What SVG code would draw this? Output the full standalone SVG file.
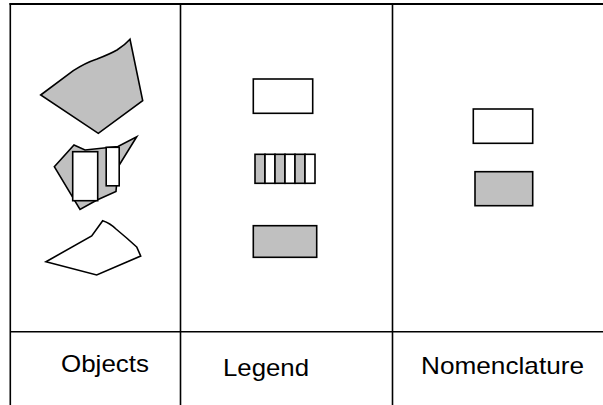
<svg xmlns="http://www.w3.org/2000/svg" width="603" height="405" viewBox="0 0 603 405">
<style>
.ln{stroke:#000;stroke-width:1.6;fill:none}
.sh{stroke:#000;stroke-width:1.6;stroke-linejoin:miter}
.g{fill:#c0c0c0}
.w{fill:#fff}
.lbl{font-family:"Liberation Sans",Arial,sans-serif;font-size:24px;fill:#000}
</style>
<rect width="603" height="405" fill="#fff"/>
<g id="frame">
<line class="ln" x1="9.5" y1="4" x2="603" y2="4" style="stroke-width:2.2"/>
<line class="ln" x1="10.3" y1="3" x2="10.3" y2="405"/>
<line class="ln" x1="180.5" y1="4" x2="180.5" y2="405"/>
<line class="ln" x1="392.5" y1="4" x2="392.5" y2="405"/>
<line class="ln" x1="10" y1="331.7" x2="603" y2="331.7"/>
</g>
<g id="objects">
<path class="sh g" d="M40.7,95 L73.3,70.7 Q85,63 97,59 Q110,54 117,50 Q125,45 130,39.3 L142.7,100.7 L98.3,133.3 Z"/>
<path class="sh g" d="M54.3,166.7 L74,145 L85,150 L118,146.5 L136.7,136.7 L118,167 L116,191.5 L97,200 L80,209.5 Z"/>
<rect class="sh w" x="72.7" y="151.7" width="25" height="49"/>
<rect class="sh w" x="106.2" y="147.3" width="13" height="38.5"/>
<path class="sh w" d="M46,261.7 L91.7,236 L102.7,220.7 Q110,223 116,229 Q127,238 136.7,247 L140.7,256 L96.7,275 Z"/>
</g>
<g id="legend">
<rect class="sh w" x="253.3" y="79" width="59.4" height="34.3"/>
<rect class="sh g" x="255" y="154.3" width="10" height="29"/>
<rect class="sh w" x="265" y="154.3" width="10" height="29"/>
<rect class="sh g" x="275" y="154.3" width="10" height="29"/>
<rect class="sh w" x="285" y="154.3" width="10" height="29"/>
<rect class="sh g" x="295" y="154.3" width="10" height="29"/>
<rect class="sh w" x="305" y="154.3" width="10" height="29"/>
<rect class="sh g" x="253.3" y="225.7" width="63.4" height="31.6"/>
</g>
<g id="nomenclature">
<rect class="sh w" x="473.3" y="109" width="59.4" height="34.3"/>
<rect class="sh g" x="475" y="171.7" width="57.7" height="34"/>
</g>
<g id="labels">
<text class="lbl" x="61" y="372" textLength="88" lengthAdjust="spacingAndGlyphs">Objects</text>
<text class="lbl" x="223" y="376" textLength="86" lengthAdjust="spacingAndGlyphs">Legend</text>
<text class="lbl" x="421" y="374" textLength="163" lengthAdjust="spacingAndGlyphs">Nomenclature</text>
</g>
<g id="connectors"/>
</svg>
